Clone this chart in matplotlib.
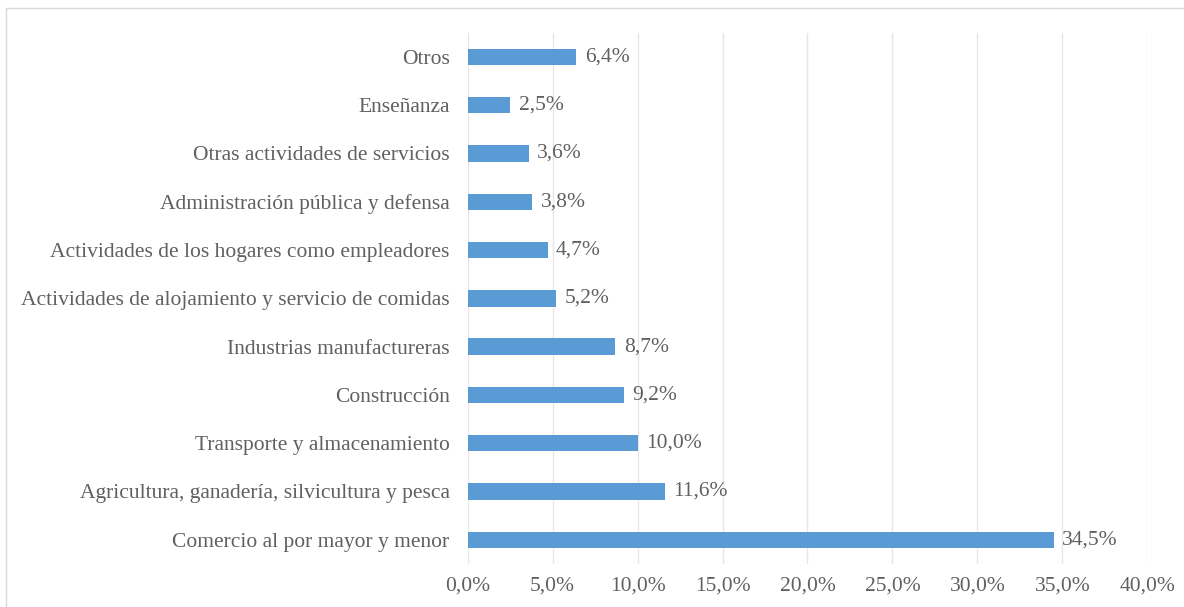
import matplotlib
matplotlib.use("Agg")
import matplotlib.pyplot as plt
from matplotlib.ticker import FuncFormatter
from matplotlib.patches import Rectangle

categories = [
    "Comercio al por mayor y menor",
    "Agricultura, ganadería, silvicultura y pesca",
    "Transporte y almacenamiento",
    "Construcción",
    "Industrias manufactureras",
    "Actividades de alojamiento y servicio de comidas",
    "Actividades de los hogares como empleadores",
    "Administración pública y defensa",
    "Otras actividades de servicios",
    "Enseñanza",
    "Otros",
]
values = [34.5, 11.6, 10.0, 9.2, 8.7, 5.2, 4.7, 3.8, 3.6, 2.5, 6.4]
x_ticks = [0, 5, 10, 15, 20, 25, 30, 35, 40]

text_color = "#606060"
bar_color = "#5B9BD5"
plt.rcParams["font.family"] = ["Liberation Serif", "DejaVu Serif"]

fig = plt.figure(figsize=(11.84, 6.07), dpi=100)
ax = fig.add_axes([0.395, 0.071, 0.574, 0.875])

# thin frame around the chart area
fig.patches.append(Rectangle((0.005, -0.05), 1.2, 1.037, transform=fig.transFigure,
                             fill=False, edgecolor="#d9d9d9", linewidth=1))

ypos = range(len(categories))
ax.barh(ypos, values, height=0.34, color=bar_color, zorder=3)
for y, v in zip(ypos, values):
    ax.text(v + 0.5, y, f"{v:.1f}%".replace(".", ","), va="center", ha="left",
            fontsize=15.5, color=text_color)

ax.set_yticks(list(ypos))
ax.set_yticklabels(categories, fontsize=15.5, color=text_color)
ax.set_ylim(-0.5, len(categories) - 0.5)
ax.set_xlim(0, 40)
ax.set_xticks(x_ticks)
ax.xaxis.set_major_formatter(FuncFormatter(lambda v, p: f"{v:.1f}%".replace(".", ",")))
ax.tick_params(axis="x", labelsize=15.5, colors=text_color, length=0, pad=9)
ax.tick_params(axis="y", length=0, pad=13)
ax.grid(axis="x", color="#e6e6e6", linewidth=1, zorder=0)
for s in ax.spines.values():
    s.set_visible(False)

fig.savefig("out.png", dpi=100)
